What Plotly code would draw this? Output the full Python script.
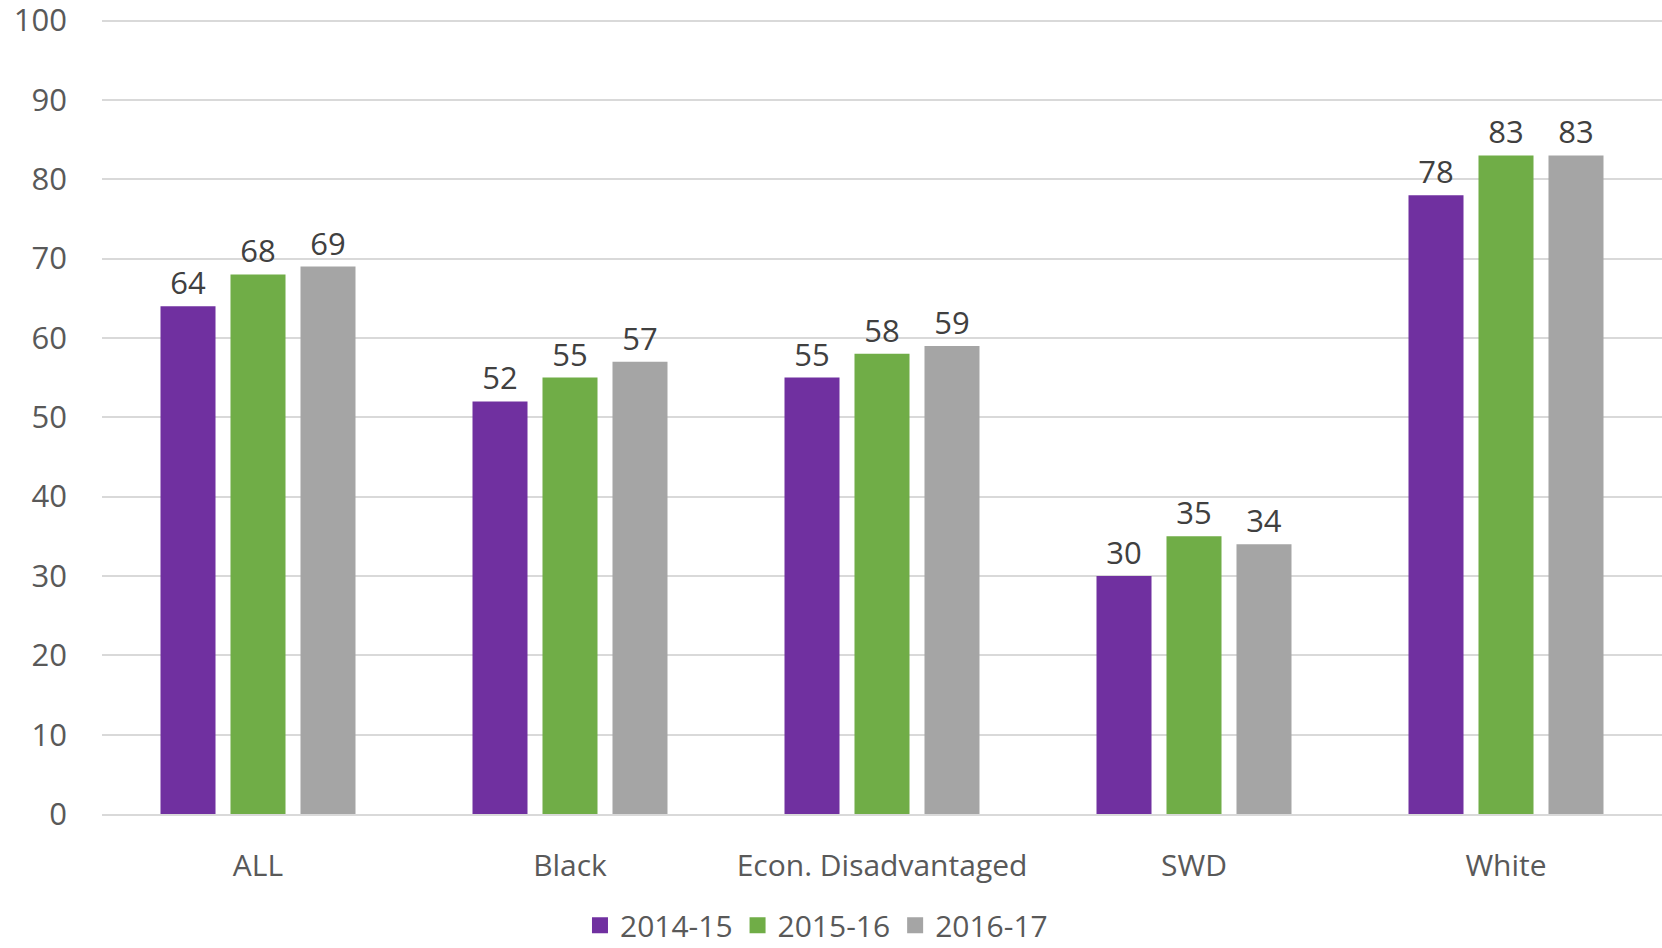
import plotly.graph_objects as go

categories = ["ALL", "Black", "Econ. Disadvantaged", "SWD", "White"]
series_names = ["2014-15", "2015-16", "2016-17"]
values_2014 = [64, 52, 55, 30, 78]
values_2015 = [68, 55, 58, 35, 83]
values_2016 = [69, 57, 59, 34, 83]
colors = ["#7030A0", "#70AD47", "#A5A5A5"]
y_ticks = [0, 10, 20, 30, 40, 50, 60, 70, 80, 90, 100]

FONT = "Open Sans"
fig = go.Figure()
for name, vals, col in zip(series_names, [values_2014, values_2015, values_2016], colors):
    fig.add_trace(go.Bar(
        x=categories, y=vals, name=name, showlegend=False,
        marker=dict(color=col, line=dict(width=0)),
        text=[str(v) for v in vals], textposition="outside",
        constraintext="none",
        textfont=dict(family=FONT, size=31, color="#404040"),
        cliponaxis=False,
    ))
# legend entries with larger square swatches
for name, col in zip(series_names, colors):
    fig.add_trace(go.Scatter(
        x=[None], y=[None], mode="markers", name=name,
        marker=dict(symbol="square", size=21, color=col),
        showlegend=True,
    ))

fig.update_layout(
    width=1662, height=948, autosize=False,
    margin=dict(l=102, r=0, t=19, b=134, autoexpand=False),
    paper_bgcolor="white", plot_bgcolor="white",
    barmode="group", bargap=0.327, bargroupgap=0.214,
    font=dict(family=FONT, color="#595959", size=30),
    showlegend=True,
    legend=dict(orientation="h", x=0.458, xanchor="center",
                y=-0.14, yanchor="middle",
                font=dict(family=FONT, size=30, color="#595959"),
                traceorder="normal", itemwidth=30),
)
fig.update_yaxes(range=[0, 100.2], tickvals=y_ticks, showgrid=True,
                 gridcolor="#D9D9D9", gridwidth=2, zeroline=False,
                 showline=False, ticks="", ticklabelstandoff=34,
                 automargin=False, ticklabeloverflow="allow",
                 tickfont=dict(family=FONT, size=31, color="#595959"))
fig.update_xaxes(showline=True, linecolor="#D9D9D9", linewidth=2, ticks="",
                 ticklabelstandoff=24, tickangle=0, automargin=False,
                 tickfont=dict(family=FONT, size=30, color="#595959"))

fig.write_html("out.html", config={"displayModeBar": False},
               post_script="document.body.style.margin='0';document.body.style.overflow='hidden';")
